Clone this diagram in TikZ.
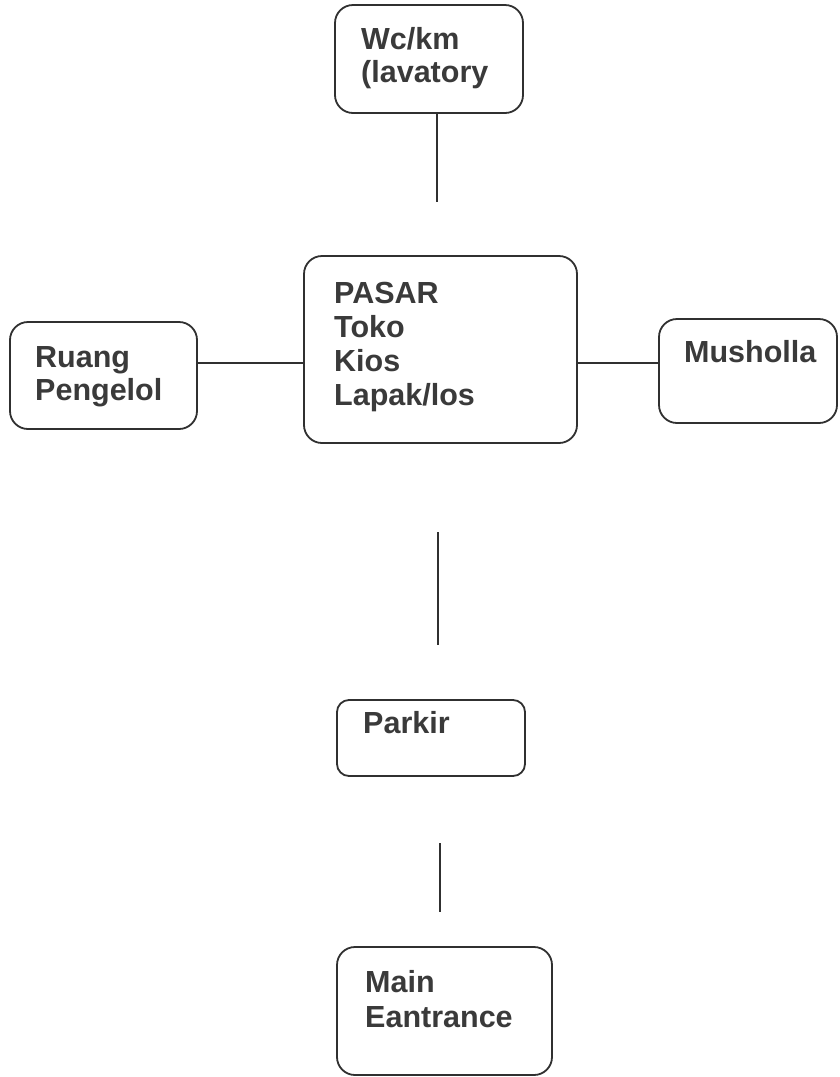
\documentclass[tikz,border=0pt]{standalone}
\usepackage{fontspec}
\setmainfont{Liberation Sans}
\definecolor{ink}{HTML}{3A3A3A}
\definecolor{edge}{HTML}{303030}
\begin{document}
\begin{tikzpicture}[x=1pt,y=-1pt,
  box/.style={draw=edge,line width=1.8pt,rounded corners=18pt,inner sep=0pt,
    minimum width=#1},
  lbl/.style={anchor=north west,inner sep=0pt,align=left,text=ink,
    font=\fontsize{30.5}{#1}\selectfont\bfseries},
  lbl/.default=34,
  link/.style={draw=edge,line width=1.8pt}]
\useasboundingbox[fill=white] (0,0) rectangle (839,1077);

% boxes
\node[box=188pt,minimum height=108pt] (wc)     at (429,59)    {};
\node[box=187pt,minimum height=107pt] (ruang)  at (103.5,375.5) {};
\node[box=273pt,minimum height=187pt] (pasar)  at (440.5,349.5) {};
\node[box=178pt,minimum height=104pt] (mush)   at (748,371)   {};
\node[box=188pt,minimum height=76pt,rounded corners=12pt] (parkir) at (431,738) {};
\node[box=215pt,minimum height=128pt] (main)   at (444.5,1011) {};

% labels
\node[lbl=33]   (twc)     at (361,27)    {Wc/km\\(lavatory};
\node[lbl=33]   (truang)  at (35,346)    {Ruang\\Pengelol};
\node[lbl=34.3] (tpasar)  at (334,281.5) {PASAR\\Toko\\Kios\\Lapak/los};
\node[lbl]      (tmush)   at (684,340.5) {Musholla};
\node[lbl]      (tparkir) at (363,711.5) {Parkir};
\node[lbl=35.5] (tmain)   at (365,970)   {Main\\Eantrance};

% connectors
\coordinate (wcEnd) at (437,202);
\coordinate (hl) at (0,363);
\coordinate (midA) at (438,532);
\coordinate (midB) at (438,645);
\coordinate (lowA) at (440,843);
\coordinate (lowB) at (440,912);

\draw[link] (wc.south -| wcEnd) -- (wcEnd);
\draw[link] (ruang.east |- hl) -- (pasar.west |- hl);
\draw[link] (pasar.east |- hl) -- (mush.west |- hl);
\draw[link] (midA) -- (midB);
\draw[link] (lowA) -- (lowB);
\end{tikzpicture}
\end{document}
